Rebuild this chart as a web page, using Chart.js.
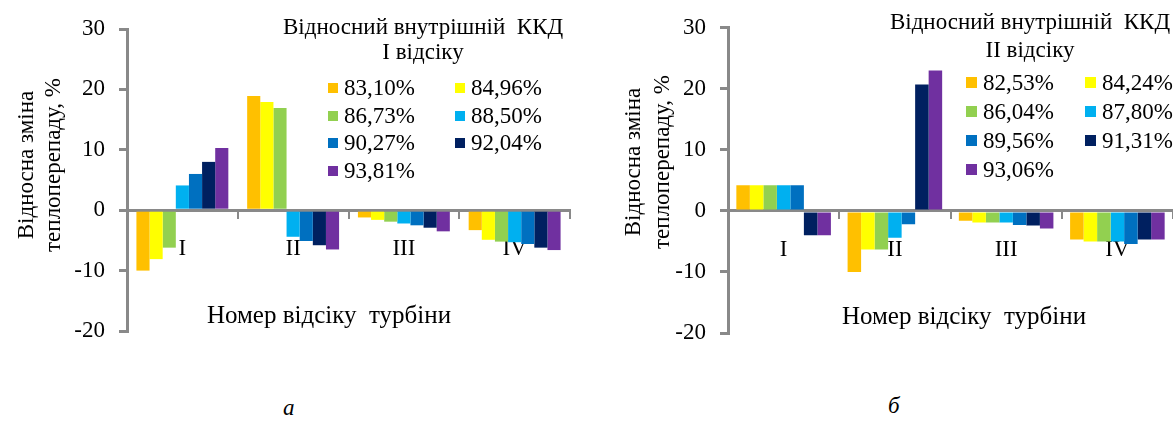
<!DOCTYPE html>
<html><head><meta charset="utf-8">
<script src="https://cdn.jsdelivr.net/npm/chart.js@4.4.0/dist/chart.umd.min.js"></script>
<style>
html,body{margin:0;padding:0;background:#fff;}
#wrap{position:relative;width:1173px;height:421px;overflow:hidden;font-family:"Liberation Serif";color:#000;}
.box{position:absolute;top:0;}
.lg{position:absolute;top:0;font-size:23px;font-family:"Liberation Serif";}
.lg .t{position:absolute;left:0;right:0;text-align:center;white-space:pre;}
.lg .items{display:grid;position:absolute;}
.lg .it{display:flex;align-items:center;white-space:nowrap;}
.lg .sw{display:inline-block;margin-right:6px;}
.cap{position:absolute;font-style:italic;font-size:23px;line-height:27px;font-family:"Liberation Serif";}
.xt{position:absolute;width:300px;text-align:center;font-size:25px;line-height:30px;white-space:pre;font-family:"Liberation Serif";}
.yt{position:absolute;width:260px;text-align:center;font-size:23px;white-space:pre;font-family:"Liberation Serif";transform:rotate(-90deg);transform-origin:50% 50%;}
</style></head>
<body>
<div id="wrap">
  <div class="box" style="left:0;"><canvas id="cA" width="586" height="380"></canvas></div>
  <div class="box" style="left:586px;"><canvas id="cB" width="587" height="380"></canvas></div>
  <div class="yt" id="ytA" style="left:-91.5px;top:138px;line-height:27px;"></div>
  <div class="yt" id="ytB" style="left:516.5px;top:133px;line-height:29px;"></div>
  <div class="xt" id="xtA" style="left:179px;top:300px;"></div>
  <div class="xt" id="xtB" style="left:814px;top:301px;"></div>
  <div class="lg" id="legA" style="left:283px;width:280px;">
    <div class="t" style="top:14px;line-height:25px;">Відносний внутрішній  ККД<br>I відсіку</div>
    <div class="items" style="left:45px;top:74px;grid-template-columns:127px 127px;grid-auto-rows:27.7px;"></div>
  </div>
  <div class="lg" id="legB" style="left:880px;width:300px;">
    <div class="t" style="top:8px;line-height:28px;">Відносний внутрішній  ККД<br>II відсіку</div>
    <div class="items" style="left:86px;top:68px;grid-template-columns:119px 119px;grid-auto-rows:29px;"></div>
  </div>
  <div class="cap" style="left:283px;top:394px;">а</div>
  <div class="cap" style="left:888px;top:392px;">б</div>
</div>
<script>
// ---- data ----
const categories = ['I', 'II', 'III', 'IV'];
const seriesColors = ['#FFC000', '#FFFF00', '#92D050', '#00B0F0', '#0070C0', '#002060', '#7030A0'];

// chart "а": relative internal efficiency of section I
const labelsA = ['83,10%', '84,96%', '86,73%', '88,50%', '90,27%', '92,04%', '93,81%'];
const a8310 = [-10.0, 18.9, -1.2, -3.3];
const a8496 = [-8.1, 17.9, -1.6, -4.9];
const a8673 = [-6.2, 16.9, -1.9, -5.2];
const a8850 = [4.1, -4.4, -2.2, -5.3];
const a9027 = [6.0, -5.1, -2.5, -5.6];
const a9204 = [8.0, -5.8, -2.9, -6.2];
const a9381 = [10.3, -6.5, -3.5, -6.6];

// chart "б": relative internal efficiency of section II
const labelsB = ['82,53%', '84,24%', '86,04%', '87,80%', '89,56%', '91,31%', '93,06%'];
const b8253 = [4.2, -10.0, -1.6, -4.7];
const b8424 = [4.2, -6.3, -1.9, -5.0];
const b8604 = [4.2, -6.3, -1.9, -5.0];
const b8780 = [4.2, -4.4, -1.9, -5.0];
const b8956 = [4.2, -2.2, -2.3, -5.4];
const b9131 = [-4.0, 20.7, -2.4, -4.7];
const b9306 = [-4.0, 23.0, -2.9, -4.7];

const yMin = -20, yMax = 30, yStep = 10;
const xTitle = 'Номер відсіку  турбіни';
const yTitle = ['Відносна зміна', 'теплоперепаду, %'];

const valuesA = [a8310, a8496, a8673, a8850, a9027, a9204, a9381];
const valuesB = [b8253, b8424, b8604, b8780, b8956, b9131, b9306];

const FONT = '"Liberation Serif"';
const GRAY = '#898989';
Chart.defaults.font.family = FONT;

function makeChart(id, names, values, cfg) {
  const font = {family: FONT, size: 23};
  return new Chart(document.getElementById(id), {
    type: 'bar',
    data: {
      labels: categories,
      datasets: names.map((n, i) => ({
        label: n, data: values[i], backgroundColor: seriesColors[i], borderWidth: 0,
        categoryPercentage: cfg.cat, barPercentage: 1
      }))
    },
    options: {
      responsive: false, animation: false,
      layout: {padding: {left: 0, top: cfg.top, right: cfg.right, bottom: cfg.bottom}},
      plugins: {legend: {display: false}, tooltip: {enabled: false}},
      scales: {
        x: {
          position: {y: 0}, z: 1,
          grid: {display: true, drawOnChartArea: false, drawTicks: true, tickLength: 7, color: GRAY, lineWidth: 2, offset: true},
          border: {display: true, color: GRAY, width: 3},
          ticks: {color: '#000', font, padding: 18, maxRotation: 0, autoSkip: false},
          title: {display: false, text: xTitle}
        },
        y: {
          min: yMin, max: yMax,
          ticks: {stepSize: yStep, color: '#000', font, padding: 14},
          grid: {display: true, drawOnChartArea: false, drawTicks: true, tickLength: 8, color: GRAY, lineWidth: 3},
          border: {display: true, color: GRAY, width: 3},
          title: {display: false, text: yTitle},
          afterFit: s => { s.width = cfg.yw; }
        }
      }
    }
  });
}

const chartA = makeChart('cA', labelsA, valuesA, {top: 29, bottom: 49, right: 16, yw: 127, cat: 0.83});
const chartB = makeChart('cB', labelsB, valuesB, {top: 20, bottom: 47, right: 0, yw: 142, cat: 0.85});

// axis titles as real text, taken from the charts' own scale options
function setTitles(chart, xId, yId) {
  document.getElementById(xId).textContent = chart.options.scales.x.title.text;
  document.getElementById(yId).textContent = chart.options.scales.y.title.text.join('\n');
}
setTitles(chartA, 'xtA', 'ytA');
setTitles(chartB, 'xtB', 'ytB');

function buildLegend(legId, chart, sw) {
  const box = document.querySelector('#' + legId + ' .items');
  chart.data.datasets.forEach(ds => {
    const it = document.createElement('div');
    it.className = 'it';
    const s = document.createElement('span');
    s.className = 'sw';
    s.style.width = sw + 'px'; s.style.height = sw + 'px';
    s.style.background = ds.backgroundColor;
    const t = document.createElement('span');
    t.textContent = ds.label;
    it.appendChild(s); it.appendChild(t);
    box.appendChild(it);
  });
}
buildLegend('legA', chartA, 10);
buildLegend('legB', chartB, 11);
</script>
</body></html>
